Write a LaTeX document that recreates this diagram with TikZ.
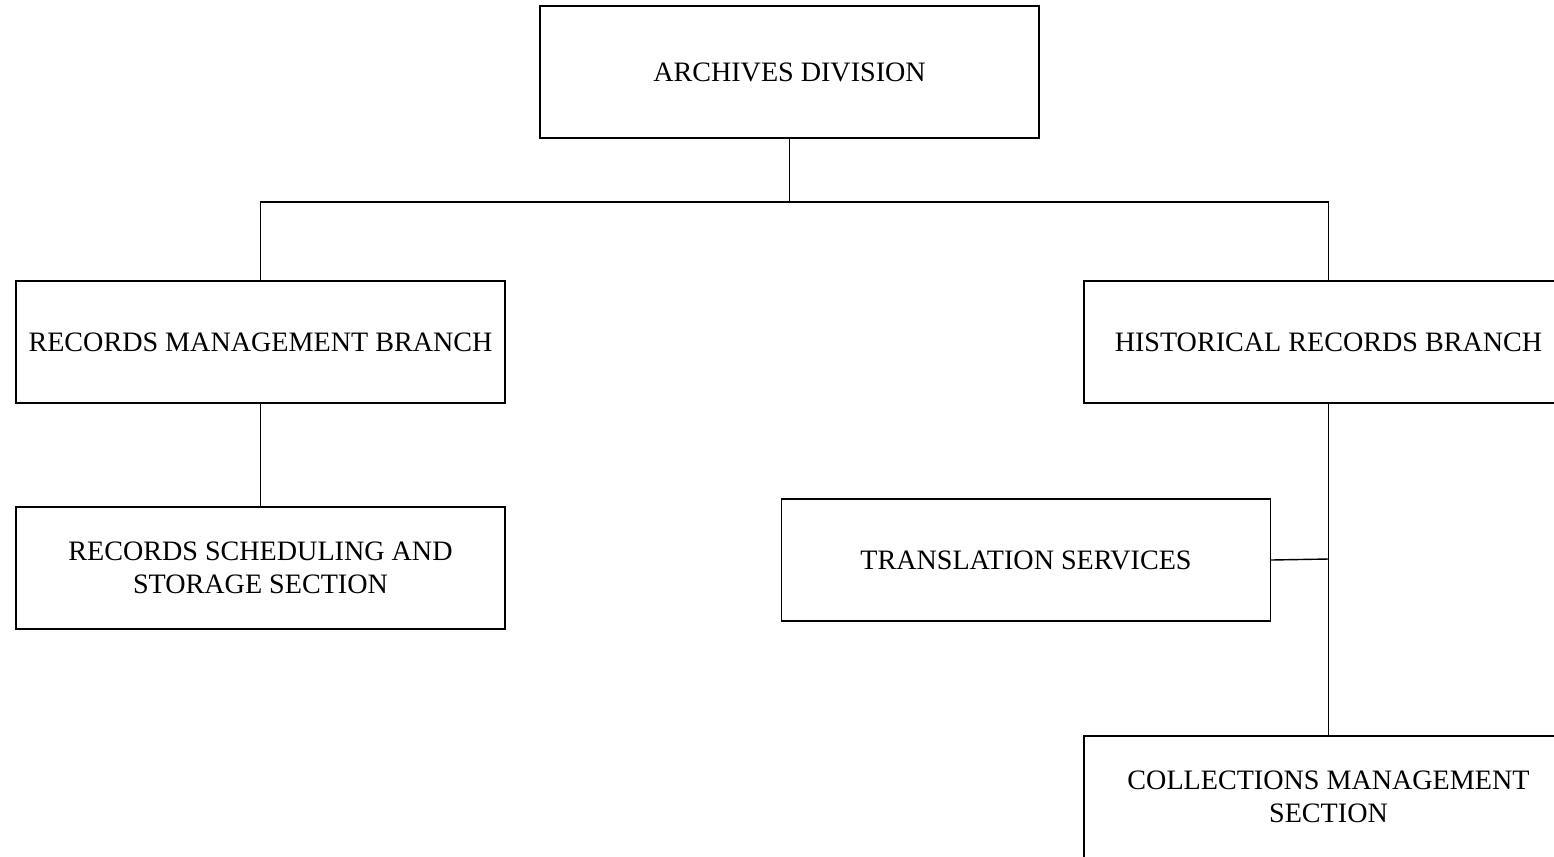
\documentclass[tikz,border=0pt]{standalone}
\usepackage{fontspec}
\setmainfont{Liberation Serif}
\tikzset{
  bx/.style={draw, line width=0.8pt, align=center, font=\fontsize{16}{19}\selectfont, inner sep=2pt},
  head/.style={bx, minimum width=9.98cm, minimum height=2.64cm},
  unit/.style={bx, minimum width=9.78cm, minimum height=2.44cm},
  tree/.style={draw, line width=0.8pt},
}
\begin{document}
\begin{tikzpicture}[x=0.02cm, y=-0.02cm]
  \clip (0,0) rectangle (1554,856);
  \node[head] (div) at (789.5,72) {ARCHIVES DIVISION};
  \node[unit] (rmb) at (260.5,342) {RECORDS MANAGEMENT BRANCH};
  \node[unit] (hrb) at (1328.5,342) {HISTORICAL RECORDS BRANCH};
  \node[unit] (rss) at (260.5,568) {RECORDS SCHEDULING AND\\STORAGE SECTION};
  \node[unit] (trs) at (1026,560) {TRANSLATION SERVICES};
  \node[unit] (cms) at (1328.5,797) {COLLECTIONS MANAGEMENT\\SECTION};
  \coordinate (split) at (789.5,202);
  \coordinate (tj) at (1328.5,559);
  % tree lines
  \draw[tree] (div.south) -- (split) -| (rmb.north);
  \draw[tree] (split) -| (hrb.north);
  \draw[tree] (rmb.south) -- (rss.north);
  \draw[tree] (hrb.south) -- (cms.north);
  \draw[tree] (trs.east) -- (tj);
\end{tikzpicture}
\end{document}
